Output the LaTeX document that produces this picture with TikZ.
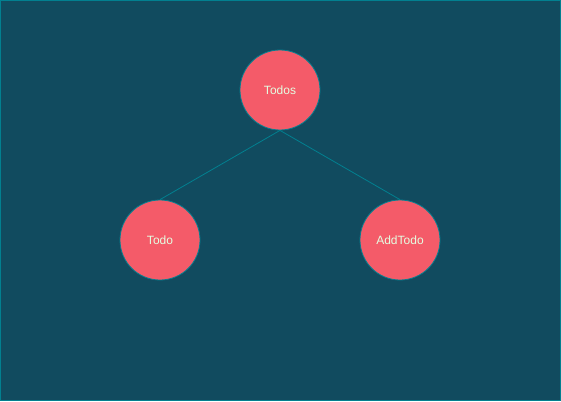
\documentclass[tikz,border=0pt]{standalone}
\usepackage{fontspec}
\setmainfont{Liberation Sans}
\definecolor{bg}{HTML}{114B5F}
\definecolor{edge}{HTML}{028090}
\definecolor{nodefill}{HTML}{F45B69}
\definecolor{txt}{HTML}{E4FDE1}
\tikzset{
  comp/.style={circle, draw=edge, line width=0.8pt, fill=nodefill, minimum size=80pt, inner sep=0pt, text=txt, font=\fontsize{12}{14}\selectfont},
  link/.style={draw=edge, line width=0.8pt}
}
\begin{document}
\begin{tikzpicture}[x=1pt,y=-1pt]
\useasboundingbox (0,0) rectangle (561,401);
\fill[bg] (0,0) rectangle (561,401);
\draw[edge, line width=1pt] (0.5,0.5) rectangle (560.5,400.5);
\node[comp] (todos) at (280,90) {Todos};
\node[comp] (todo) at (160,240) {Todo};
\node[comp] (add) at (400,240) {AddTodo};
\draw[link] (todos.south) -- (todo.north);
\draw[link] (todos.south) -- (add.north);
\end{tikzpicture}
\end{document}
